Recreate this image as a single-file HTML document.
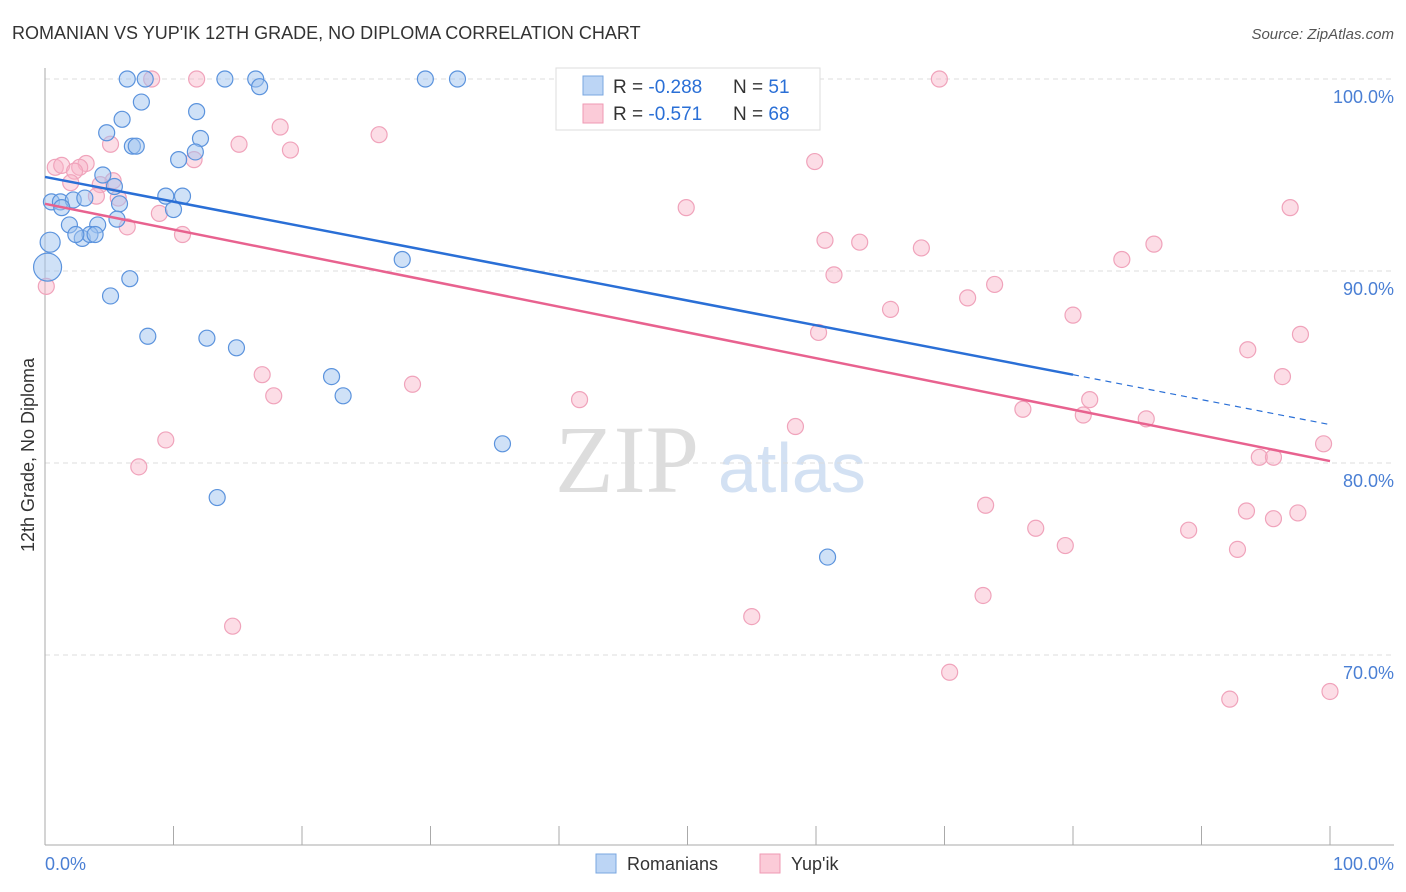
<!DOCTYPE html>
<html><head><meta charset="utf-8"><style>
body{margin:0;background:#fff;font-family:"Liberation Sans",sans-serif}
svg{display:block}
</style></head><body>
<svg id="c" width="1406" height="892">
<text x="12" y="39" font-size="18" fill="#333">ROMANIAN VS YUP'IK 12TH GRADE, NO DIPLOMA CORRELATION CHART</text>
<text x="1394" y="39" font-size="15" fill="#555" text-anchor="end" font-style="italic">Source: ZipAtlas.com</text>
<text x="34" y="455" font-size="18" fill="#333" transform="rotate(-90 34 455)" text-anchor="middle">12th Grade, No Diploma</text>
<text x="555" y="492" font-size="96" fill="#ddd" font-family="Liberation Serif">ZIP</text>
<text x="718" y="492" font-size="70" fill="#d3e1f3">atlas</text>
<g id="grid"></g><g id="pts"></g><g id="lines"></g>
<rect x="556" y="68" width="264" height="62" fill="#fff" stroke="#ddd"/>
<rect x="583" y="76" width="20" height="19" fill="#bcd5f5" stroke="#7aa7e0"/>
<rect x="583" y="104" width="20" height="19" fill="#fbcbd8" stroke="#ef9ab3"/>
<text x="613" y="93" font-size="19" fill="#333">R = <tspan fill="#2a6fd6">-0.288</tspan></text>
<text x="733" y="93" font-size="19" fill="#333">N = <tspan fill="#2a6fd6"> 51</tspan></text>
<text x="613" y="120" font-size="19" fill="#333">R = <tspan fill="#2a6fd6"> -0.571</tspan></text>
<text x="733" y="120" font-size="19" fill="#333">N = <tspan fill="#2a6fd6">68</tspan></text>
<text x="45" y="870" font-size="18" fill="#4a7fd4">0.0%</text>
<text x="1394" y="870" font-size="18" fill="#4a7fd4" text-anchor="end">100.0%</text>
<rect x="596" y="854" width="20" height="19" fill="#bcd5f5" stroke="#7aa7e0"/>
<text x="627" y="870" font-size="18" fill="#333">Romanians</text>
<rect x="760" y="854" width="20" height="19" fill="#fbcbd8" stroke="#ef9ab3"/>
<text x="791" y="870" font-size="18" fill="#333">Yup'ik</text>
</svg>
<script>
const yTicks=[100,90,80,70];
const yTickLabels=["100.0%","90.0%","80.0%","70.0%"];
const romX=[6.4,7.8,14,16.4,29.6,32.1,16.7,7.5,11.8,6,4.8,12.1,6.8,7.1,10.4,11.7,4.5,5.4,9.4,10.7,0.5,1.2,2.2,3.1,5.8,10,1.3,1.9,4.1,5.6,2.9,3.5,3.9,2.4,0.4,0.2,27.8,6.6,5.1,12.6,14.9,8,22.3,23.2,35.6,13.4,60.9,54.1];
const romY=[100,100,100,100,100,100,99.6,98.8,98.3,97.9,97.2,96.9,96.5,96.5,95.8,96.2,95,94.4,93.9,93.9,93.6,93.6,93.7,93.8,93.5,93.2,93.3,92.4,92.4,92.7,91.7,91.9,91.9,91.9,91.5,90.2,90.6,89.6,88.7,86.5,86,86.6,84.5,83.5,81,78.2,75.1,100];
const yupX=[8.3,11.8,69.6,18.3,26,15.1,19.1,5.1,11.6,0.8,1.3,3.2,2.7,2.3,5.3,4.3,2,4,5.7,8.9,6.4,10.7,49.9,96.9,59.9,60.7,63.4,68.2,86.3,83.8,61.4,0.1,71.8,73.9,65.8,80,97.7,60.2,93.6,96.3,16.9,17.8,28.6,41.6,81.3,76.1,80.8,85.7,58.4,9.4,7.3,99.5,94.5,95.6,73.2,77.1,79.4,89,93.5,95.6,97.5,92.8,73,55,14.6,70.4,92.2,100];
const yupY=[100,100,100,97.5,97.1,96.6,96.3,96.6,95.8,95.4,95.5,95.6,95.4,95.2,94.7,94.5,94.6,93.9,93.8,93,92.3,91.9,93.3,93.3,95.7,91.6,91.5,91.2,91.4,90.6,89.8,89.2,88.6,89.3,88,87.7,86.7,86.8,85.9,84.5,84.6,83.5,84.1,83.3,83.3,82.8,82.5,82.3,81.9,81.2,79.8,81,80.3,80.3,77.8,76.6,75.7,76.5,77.5,77.1,77.4,75.5,73.1,72,71.5,69.1,67.7,68.1];
const romTrend=[[0,94.9],[80,84.6],[100,82]];
const yupTrend=[[0,93.5],[100,80.1]];
const X=v=>45+v*12.85, Y=v=>79+(100-v)*19.2;
const ns="http://www.w3.org/2000/svg";
function mk(t,a,p){const e=document.createElementNS(ns,t);for(const k in a)e.setAttribute(k,a[k]);p.appendChild(e);return e;}
const g=document.getElementById('grid');
yTicks.forEach((t,i)=>{
 const l=mk('line',{x1:45,x2:1394,y1:Y(t),y2:Y(t),stroke:'#ddd','stroke-dasharray':'5,4'},g);
 
 
 const tx=mk('text',{x:1394,y:Y(t)+24,'font-size':18,fill:'#4a7fd4','text-anchor':'end'},g);
 tx.textContent=yTickLabels[i];
 
 
});
const ax=mk('line',{x1:45,x2:45,y1:68,y2:845,stroke:'#aaa'},g);


const bx=mk('line',{x1:45,x2:1394,y1:845,y2:845,stroke:'#aaa'},g);


for(let i=0;i<=10;i++){const t=mk('line',{x1:X(i*10),x2:X(i*10),y1:826,y2:845,stroke:'#aaa'},g);
 
 }
const p=document.getElementById('pts');
yupX.forEach((x,i)=>{const c=mk('circle',{cx:X(x),cy:Y(yupY[i]),r:8,fill:'rgba(248,180,200,0.45)',stroke:'#f0a3bb','stroke-width':1.2},p);
 
 });
romX.forEach((x,i)=>{const c=mk('circle',{cx:X(x),cy:Y(romY[i]),r:(i==35?14:(i==34?10:8)),fill:'rgba(160,195,240,0.5)',stroke:'#5b93dd','stroke-width':1.2},p);
 
 });
const L=document.getElementById('lines');
let a=mk('line',{x1:X(romTrend[0][0]),y1:Y(romTrend[0][1]),x2:X(romTrend[1][0]),y2:Y(romTrend[1][1]),stroke:'#2a6fd6','stroke-width':2.5},L);


a=mk('line',{x1:X(romTrend[1][0]),y1:Y(romTrend[1][1]),x2:X(romTrend[2][0]),y2:Y(romTrend[2][1]),stroke:'#2a6fd6','stroke-width':1.2,'stroke-dasharray':'6,5'},L);


a=mk('line',{x1:X(yupTrend[0][0]),y1:Y(yupTrend[0][1]),x2:X(yupTrend[1][0]),y2:Y(yupTrend[1][1]),stroke:'#e8628f','stroke-width':2.5},L);


</script>
</body></html>
